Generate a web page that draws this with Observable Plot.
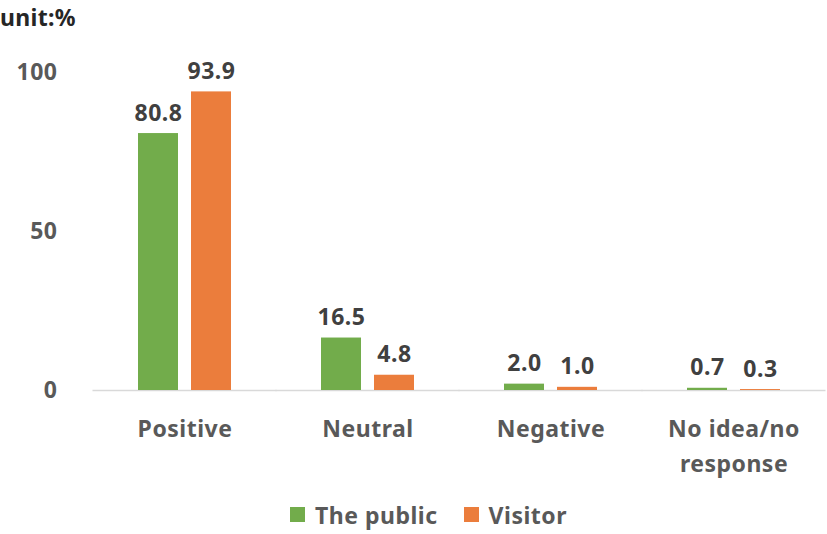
<!DOCTYPE html>
<html>
<head>
<meta charset="utf-8">
<script src="https://cdn.jsdelivr.net/npm/d3@7"></script>
<script src="https://cdn.jsdelivr.net/npm/@observablehq/plot@0.6"></script>
<style>
  body { margin: 0; background: #fff; font-family: "Noto Sans", sans-serif; }
  #unit { height: 36px; line-height: 34px; font-size: 23px; font-weight: bold; color: #262626; padding-left: 0px; letter-spacing: 0.3px; }
  #legend { display: flex; justify-content: center; align-items: center; gap: 26px; height: 39px; font-size: 23px; font-weight: bold; color: #595959; padding-left: 30px; letter-spacing: 0.5px; }
  .sw { display: inline-block; width: 15px; height: 15px; margin-right: 10px; }
  .item { display: flex; align-items: center; }
</style>
</head>
<body>
<div id="unit">unit:%</div>
<div id="chart"></div>
<div id="legend"></div>
<script>
const categories = ["Positive", "Neutral", "Negative", "No idea/no\nresponse"];
const seriesNames = ["The public", "Visitor"];
const publicValues = [80.8, 16.5, 2.0, 0.7];
const visitorValues = [93.9, 4.8, 1.0, 0.3];
const yTicks = [0, 50, 100];
const colors = ["#72AC4B", "#EB7D3C"];

const data = [];
categories.forEach((c, i) => {
  data.push({category: c, series: seriesNames[0], value: publicValues[i]});
  data.push({category: c, series: seriesNames[1], value: visitorValues[i]});
});

const chart = Plot.plot({
  width: 827,
  height: 459,
  marginLeft: 93,
  marginRight: 2,
  marginTop: 36,
  marginBottom: 105,
  style: {fontFamily: "Noto Sans, sans-serif", fontSize: "23px", fontWeight: "bold", color: "#595959", letterSpacing: "0.5px"},
  fx: {domain: categories, paddingInner: 0.48, paddingOuter: 0.24, label: null},
  x: {domain: seriesNames, paddingInner: 0.24, paddingOuter: 0, axis: null},
  y: {domain: [0, 100], label: null},
  color: {domain: seriesNames, range: colors},
  marks: [
    Plot.axisY({ticks: yTicks, tickSize: 0, tickPadding: 80, label: null, fill: "#595959", fontSize: 23, fontWeight: "bold"}),
    Plot.axisFx({anchor: "bottom", tickSize: 0, tickPadding: 21, label: null, fill: "#595959", fontSize: 23, fontWeight: "bold", lineHeight: 1.55, lineAnchor: "top"}),
    Plot.ruleY([0], {stroke: "#d9d9d9", strokeWidth: 1.5, insetLeft: -44.5, insetRight: -44.5}),
    Plot.barY(data, {fx: "category", x: "series", y: "value", fill: "series"}),
    Plot.text(data, {fx: "category", x: "series", y: "value", text: d => d.value.toFixed(1), lineAnchor: "bottom", dy: -13, fill: "#404040", fontSize: 23, fontWeight: "bold"})
  ]
});
document.getElementById("chart").appendChild(chart);

const legend = document.getElementById("legend");
seriesNames.forEach((s, i) => {
  const item = document.createElement("span");
  item.className = "item";
  const sw = document.createElement("span");
  sw.className = "sw";
  sw.style.background = colors[i];
  item.appendChild(sw);
  item.appendChild(document.createTextNode(s));
  legend.appendChild(item);
});
</script>
</body>
</html>
